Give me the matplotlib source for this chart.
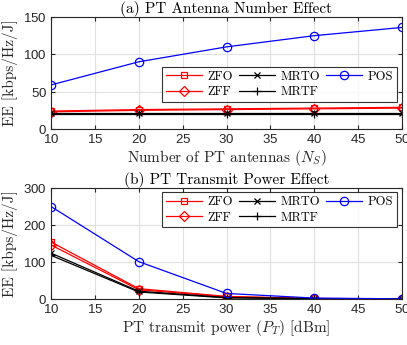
import matplotlib
matplotlib.use("Agg")
import matplotlib.pyplot as plt

ns = [10, 20, 30, 40, 50]
pt = [10, 20, 30, 40, 50]

a_zfo = [24, 26, 27, 28, 29]
a_zff = [23, 25, 26, 27, 28]
a_mrto = [21, 21, 21, 21, 21]
a_mrtf = [20, 20, 20, 20, 20]
a_pos = [59, 90, 110, 125, 136]

b_zfo = [154, 28, 7, 1.5, 0.3]
b_zff = [146, 25, 6, 1.2, 0.3]
b_mrto = [124, 21, 4, 1.0, 0.2]
b_mrtf = [118, 19, 3, 0.8, 0.2]
b_pos = [250, 101, 15, 2.5, 0.5]

labels = ["ZFO", "ZFF", "MRTO", "MRTF", "POS"]

plt.rcParams['mathtext.fontset'] = 'cm'
serif = ['cmr10', 'DejaVu Serif']
plt.rcParams['axes.formatter.use_mathtext'] = True

fig = plt.figure(figsize=(4.07, 3.45), dpi=100)
W, H = 407, 345
ax1 = fig.add_axes([51 / W, 1 - 129 / H, 351 / W, 112 / H])
ax2 = fig.add_axes([51 / W, 1 - 299 / H, 351 / W, 111 / H])

styles = [
    dict(color='red', marker='s'),
    dict(color='red', marker='D'),
    dict(color='black', marker='x'),
    dict(color='black', marker='+'),
    dict(color='blue', marker='o'),
]
mk_sizes = [5, 5, 4.5, 6, 6]


def draw(ax, x, series, ylim, yticks, xlabel, title, legend_anchor):
    handles = []
    for s, st, ms, lab in zip(series, styles, mk_sizes, labels):
        h, = ax.plot(x, s, linewidth=0.9, markersize=ms, markerfacecolor='none',
                     markeredgewidth=0.9, label=lab, **st)
        handles.append(h)
    ax.set_xlim(10, 50)
    ax.set_ylim(*ylim)
    ax.set_xticks([10, 15, 20, 25, 30, 35, 40, 45, 50])
    ax.set_yticks(yticks)
    ax.grid(True, color='#e0e0e0', linewidth=0.8)
    ax.set_axisbelow(True)
    ax.tick_params(direction='in', length=3, labelsize=9.5, colors='#262626',
                   top=True, right=True, pad=3)
    for lab in ax.get_xticklabels() + ax.get_yticklabels():
        lab.set_fontfamily(['Liberation Sans', 'DejaVu Sans'])
    for sp in ax.spines.values():
        sp.set_color('#262626')
        sp.set_linewidth(0.8)
    ax.set_ylabel(r"EE [kbps/Hz/J]", family=serif, fontsize=11, color='#262626',
                  labelpad=4)
    ax.set_xlabel(xlabel, family=serif, fontsize=11, color='#262626', labelpad=1)
    ax.set_title(title, family=serif, fontsize=11, pad=3)
    leg = ax.legend(handles=handles, ncol=3, loc='upper right',
                    bbox_to_anchor=legend_anchor,
                    prop={'family': serif, 'size': 9},
                    frameon=True, fancybox=False, edgecolor='black',
                    handlelength=2.9, columnspacing=0.5, handletextpad=0.4,
                    borderpad=0.3, labelspacing=0.25, borderaxespad=0)
    leg.get_frame().set_linewidth(0.8)


draw(ax1, ns, [a_zfo, a_zff, a_mrto, a_mrtf, a_pos], (0, 150), [0, 50, 100, 150],
     r"Number of PT antennas ($N_S$)", "(a) PT Antenna Number Effect",
     (0.985, 0.555))
draw(ax2, pt, [b_zfo, b_zff, b_mrto, b_mrtf, b_pos], (0, 300), [0, 100, 200, 300],
     r"PT transmit power ($P_T$) [dBm]", "(b) PT Transmit Power Effect",
     (0.985, 0.96))

fig.savefig("out.png", dpi=100)
